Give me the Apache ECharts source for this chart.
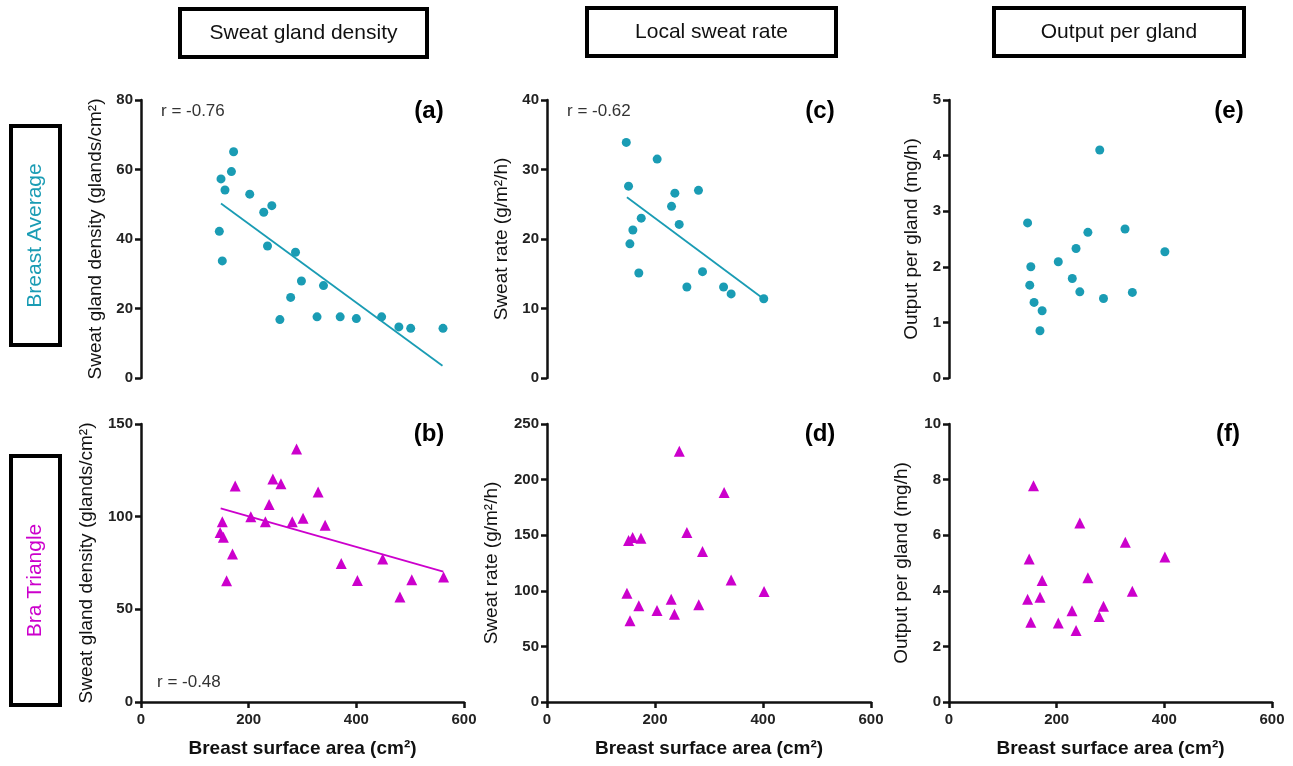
<!DOCTYPE html>
<html>
<head>
<meta charset="utf-8">
<script src="https://cdn.jsdelivr.net/npm/echarts@6/dist/echarts.min.js"></script>
<style>
  html, body { margin: 0; padding: 0; background: #fff; }
  #chart { width: 1293px; height: 766px; }
</style>
</head>
<body>
<div id="chart"></div>
<script>
// values
const areaA = [148.6, 156, 172, 168, 145.5, 151, 202, 228, 243, 235, 287, 258, 278, 298, 339, 327, 370, 400, 447, 479, 501, 561];
const densityAvg = [57.3, 54.1, 65.1, 59.4, 42.2, 33.7, 52.9, 47.7, 49.6, 38.0, 36.2, 16.8, 23.2, 27.9, 26.6, 17.6, 17.6, 17.1, 17.6, 14.7, 14.3, 14.3];

const areaB = [151, 147, 153, 170, 159, 175, 204, 231, 238, 245, 260, 281, 289, 301, 329, 342, 372, 402, 449, 481, 503, 562];
const densityTri = [97.2, 91.4, 88.9, 79.9, 65.4, 116.6, 100.0, 97.2, 106.5, 120.3, 117.8, 97.2, 136.5, 99.1, 113.3, 95.4, 74.7, 65.6, 77.2, 56.6, 65.9, 67.5];

const areaC = [146.8, 151, 153.5, 159, 174.5, 170, 204, 230.6, 236.8, 244.8, 259, 280.5, 288, 327, 341, 401.4];
const rateAvg = [33.9, 27.6, 19.3, 21.3, 23.0, 15.1, 31.5, 24.7, 26.6, 22.1, 13.1, 27.0, 15.3, 13.1, 12.1, 11.4];

const areaD = [148, 151, 158.6, 174, 153.7, 170, 203.7, 230, 236, 245, 259, 281, 288, 328, 341, 402];
const rateTri = [97.9, 145.2, 147.9, 147.3, 73.1, 86.5, 82.3, 92.5, 79.0, 225.4, 152.4, 87.4, 135.3, 188.3, 109.6, 99.4];

const areaE = [146, 152, 150, 158, 173, 169, 203, 229, 236, 243, 258, 280, 287, 327, 340.6, 401];
const outputAvg = [2.79, 2.00, 1.67, 1.36, 1.21, 0.85, 2.09, 1.79, 2.33, 1.55, 2.62, 4.10, 1.43, 2.68, 1.54, 2.27];

const areaF = [146, 149, 152, 157, 169, 173, 203, 228.5, 236, 243, 258, 279, 287, 327.5, 340.5, 401];
const outputTri = [3.70, 5.14, 2.87, 7.78, 3.77, 4.37, 2.84, 3.28, 2.57, 6.44, 4.47, 3.08, 3.44, 5.75, 3.98, 5.22];

// regression line ends
const fitA = [[148.6, 50.2], [560, 3.5]];
const fitB = [[148, 104.5], [561.5, 70.4]];
const fitC = [[148, 26.0], [400.8, 11.4]];

const yMax = [80, 150, 40, 250, 5, 10];
const yStep = [20, 50, 10, 50, 1, 2];
const yNames = [
  'Sweat gland density (glands/cm²)', 'Sweat gland density (glands/cm²)',
  'Sweat rate (g/m²/h)', 'Sweat rate (g/m²/h)',
  'Output per gland (mg/h)', 'Output per gland (mg/h)'
];
const rLabels = ['r = -0.76', 'r = -0.48', 'r = -0.62'];
const panelTags = ['(a)', '(b)', '(c)', '(d)', '(e)', '(f)'];
const headers = ['Sweat gland density', 'Local sweat rate', 'Output per gland'];

const TEAL = '#1a9cb4';
const MAGENTA = '#cc00cc';
const FONT = '"Liberation Sans", Arial, sans-serif';

const colLeft = [141, 547, 949];
const colWidth = [323, 324, 323];
const rowTop = [100, 424];
const rowH = 278;
const nameGaps = [36, 45, 36, 46, 28, 38];

function zip(xs, ys) {
  return xs.map((x, i) => [x, ys[i]]);
}

const grids = [], xAxes = [], yAxes = [];
// panel order: a (c0 r0), b (c0 r1), c (c1 r0), d (c1 r1), e (c2 r0), f (c2 r1)
for (let p = 0; p < 6; p++) {
  const col = Math.floor(p / 2), row = p % 2;
  grids.push({left: colLeft[col], top: rowTop[row], width: colWidth[col], height: rowH});
  xAxes.push({
    gridIndex: p, type: 'value', min: 0, max: 600, interval: 200,
    show: row === 1,
    name: 'Breast surface area (cm²)', nameLocation: 'middle', nameGap: 37,
    nameTextStyle: {fontFamily: FONT, fontSize: 19, fontWeight: 'bold', color: '#111'},
    axisLine: {lineStyle: {color: '#111', width: 2.5}},
    axisTick: {length: 6, lineStyle: {color: '#111', width: 2.5}},
    axisLabel: {fontFamily: FONT, fontSize: 15, fontWeight: 'bold', color: '#222', margin: 10},
    splitLine: {show: false}
  });
  yAxes.push({
    gridIndex: p, type: 'value', min: 0, max: yMax[p], interval: yStep[p],
    name: yNames[p], nameLocation: 'middle', nameGap: nameGaps[p],
    nameTextStyle: {fontFamily: FONT, fontSize: 19, color: '#111'},
    axisLine: {show: true, lineStyle: {color: '#111', width: 2.5}},
    axisTick: {show: true, length: 6, lineStyle: {color: '#111', width: 2.5}},
    axisLabel: {fontFamily: FONT, fontSize: 15, fontWeight: 'bold', color: '#222', margin: 8},
    splitLine: {show: false}
  });
}

function dots(p, xs, ys, tri) {
  return {
    type: 'scatter', xAxisIndex: p, yAxisIndex: p,
    data: zip(xs, ys),
    symbol: tri ? 'triangle' : 'circle',
    symbolSize: tri ? 11 : 9,
    itemStyle: {color: tri ? MAGENTA : TEAL, opacity: 1},
    z: 3
  };
}
function fit(p, pts, color) {
  return {
    type: 'line', xAxisIndex: p, yAxisIndex: p, data: pts,
    symbol: 'none', lineStyle: {color: color, width: 1.8}, z: 2, silent: true
  };
}

const series = [
  dots(0, areaA, densityAvg, false), fit(0, fitA, TEAL),
  dots(1, areaB, densityTri, true), fit(1, fitB, MAGENTA),
  dots(2, areaC, rateAvg, false), fit(2, fitC, TEAL),
  dots(3, areaD, rateTri, true),
  dots(4, areaE, outputAvg, false),
  dots(5, areaF, outputTri, true)
];

const graphic = [];
// column header boxes
const headBoxes = [[180, 9, 247, 48], [587, 8, 249, 48], [994, 8, 250, 48]];
headBoxes.forEach((b, i) => {
  graphic.push({type: 'rect', shape: {x: b[0], y: b[1], width: b[2], height: b[3]},
    style: {fill: '#fff', stroke: '#000', lineWidth: 4}});
  graphic.push({type: 'text', x: b[0] + b[2] / 2, y: b[1] + b[3] / 2,
    style: {text: headers[i], fontFamily: FONT, fontSize: 21, fill: '#111', align: 'center', verticalAlign: 'middle'}});
});
// row header boxes
const rowBoxes = [[11, 126, 49, 219, 'Breast Average', TEAL], [11, 456, 49, 249, 'Bra Triangle', MAGENTA]];
rowBoxes.forEach(b => {
  graphic.push({type: 'rect', shape: {x: b[0], y: b[1], width: b[2], height: b[3]},
    style: {fill: '#fff', stroke: '#000', lineWidth: 4}});
  graphic.push({type: 'text', x: b[0] + b[2] / 2, y: b[1] + b[3] / 2, rotation: Math.PI / 2,
    style: {text: b[4], fontFamily: FONT, fontSize: 21, fill: b[5], align: 'center', verticalAlign: 'middle'}});
});
// panel tags and r values
const tagPos = [[429, 111], [429, 434], [820, 111], [820, 434], [1229, 111], [1228, 434]];
tagPos.forEach((t, i) => {
  graphic.push({type: 'text', x: t[0], y: t[1],
    style: {text: panelTags[i], fontFamily: FONT, fontSize: 24, fontWeight: 'bold', fill: '#000', align: 'center', verticalAlign: 'middle'}});
});
const rPos = [[161, 111], [157, 682], [567, 111]];
rPos.forEach((r, i) => {
  graphic.push({type: 'text', x: r[0], y: r[1],
    style: {text: rLabels[i], fontFamily: FONT, fontSize: 17, fill: '#333', align: 'left', verticalAlign: 'middle'}});
});

const chart = echarts.init(document.getElementById('chart'));
chart.setOption({
  animation: false,
  backgroundColor: '#fff',
  grid: grids,
  xAxis: xAxes,
  yAxis: yAxes,
  series: series,
  graphic: graphic
});
</script>
</body>
</html>
